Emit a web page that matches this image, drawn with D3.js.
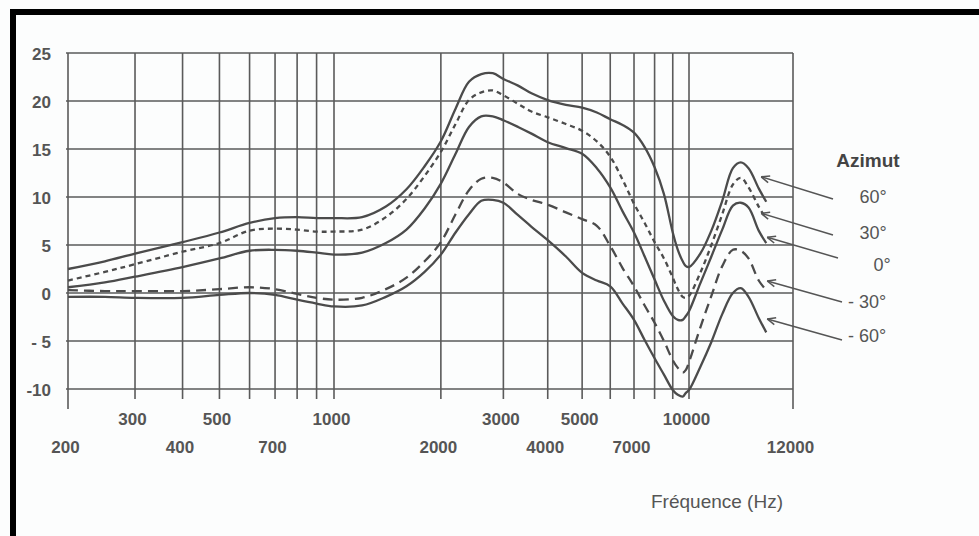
<!DOCTYPE html>
<html>
<head>
<meta charset="utf-8">
<script src="https://cdn.jsdelivr.net/npm/d3@7"></script>
<style>
html,body{margin:0;padding:0;background:#fcfdfd;}
svg{display:block;}
</style>
</head>
<body>
<svg id="chart" width="979" height="536"></svg>
<script>
// ---- data (Hz, dB) ----
const freqs = [200, 250, 300, 400, 500, 600, 700, 800, 900, 1000, 1200, 1400, 1600, 1800, 2000, 2200, 2400, 2600, 2800, 3000, 3300, 3600, 4000, 4500, 5000, 5500, 6000, 6500, 7000, 7500, 8000, 8500, 9000, 9300, 9600, 9800, 10000, 10200, 10400, 10600, 10800, 10950, 11100, 11300, 11450];
const db60 = [2.5, 3.3, 4.1, 5.3, 6.3, 7.3, 7.8, 7.9, 7.8, 7.8, 7.9, 9.0, 10.8, 13.2, 15.8, 19.2, 22.0, 22.8, 22.9, 22.3, 21.6, 20.8, 20.1, 19.6, 19.3, 18.8, 18.1, 17.5, 16.7, 15.2, 13.1, 10.3, 6.3, 4.5, 3.3, 2.8, 2.7, 4.1, 6.5, 9.6, 13.0, 13.6, 13.0, 10.9, 9.5];
const db30 = [1.3, 2.2, 3.0, 4.3, 5.2, 6.5, 6.7, 6.6, 6.4, 6.4, 6.6, 7.9, 9.8, 12.2, 14.7, 17.6, 20.1, 20.9, 21.1, 20.6, 19.7, 18.9, 18.3, 17.6, 16.9, 15.8, 14.2, 11.8, 9.3, 7.3, 5.3, 3.6, 1.6, 0.4, -0.4, -0.5, -0.3, 2.1, 5.0, 8.2, 11.3, 12.0, 11.0, 9.0, 7.7];
const db0 = [0.6, 1.1, 1.7, 2.7, 3.6, 4.4, 4.5, 4.4, 4.2, 4.0, 4.2, 5.2, 6.6, 8.8, 11.4, 14.5, 17.3, 18.4, 18.4, 18.0, 17.3, 16.6, 15.7, 15.1, 14.5, 13.0, 11.0, 8.5, 6.3, 3.8, 1.4, -0.8, -2.4, -2.8, -2.8, -2.4, -1.9, 1.0, 3.8, 6.6, 9.1, 9.4, 8.9, 6.5, 5.2];
const dbM30 = [0.3, 0.2, 0.2, 0.2, 0.4, 0.6, 0.4, -0.1, -0.5, -0.7, -0.5, 0.4, 1.6, 3.3, 5.3, 8.2, 10.7, 11.9, 12.0, 11.5, 10.3, 9.7, 9.2, 8.4, 7.7, 7.0, 4.9, 2.6, 0.7, -1.3, -3.1, -5.0, -7.0, -7.8, -8.3, -8.0, -7.2, -3.6, -0.3, 2.8, 4.5, 4.4, 3.6, 1.3, 0.3];
const dbM60 = [-0.4, -0.4, -0.5, -0.5, -0.2, 0.0, -0.2, -0.7, -1.1, -1.4, -1.3, -0.4, 0.7, 2.2, 4.0, 6.3, 8.2, 9.6, 9.7, 9.4, 8.1, 6.9, 5.5, 3.8, 2.1, 1.3, 0.7, -1.1, -2.8, -4.9, -6.8, -8.5, -10.1, -10.6, -10.8, -10.4, -10.1, -7.7, -5.1, -2.2, 0.0, 0.5, -0.4, -2.6, -4.1];

const seriesNames = ["60°", "30°", "0°", "- 30°", "- 60°"];
const seriesValues = [db60, db30, db0, dbM30, dbM60];
const seriesDash = [null, "5,4", null, "10,6", null];
// arrow tips pointing at each curve (Hz, dB)
const arrowTips = [[11350, 12.1], [11350, 8.3], [11470, 5.8], [11470, 1.25], [11470, -2.7]];

const yTicks = [25, 20, 15, 10, 5, 0, -5, -10];
const yTickLabels = ["25", "20", "15", "10", "5", "0", "- 5", "-10"];
const gridFreqs = [200, 300, 400, 500, 600, 700, 800, 900, 1000, 2000, 3000, 4000, 5000, 6000, 7000, 8000, 9000, 10000, 12000];
const xLabelsRow1 = [300, 500, 1000, 3000, 5000, 10000];
const xLabelsRow2 = [200, 400, 700, 2000, 4000, 7000, 12000];

// ---- drawing ----
const svg = d3.select("#chart");
const ink = "#4b4b4b";
const textCol = "#555";
const font = "'Liberation Sans', Arial, Helvetica, sans-serif";

svg.append("rect").attr("width", 979).attr("height", 536).attr("fill", "#fcfdfd");

const x = d3.scaleLog().domain([200, 1000, 10000, 12000]).range([68, 334, 689, 793]);
const y = d3.scaleLinear().domain([-10, 25]).range([389, 53]);

const grid = svg.append("g").attr("stroke", "#5a5a5a").attr("stroke-width", 1.6);
grid.selectAll("line.h").data(yTicks).join("line")
  .attr("class", "h")
  .attr("x1", x(200) - 2).attr("x2", x(12000))
  .attr("y1", d => y(d)).attr("y2", d => y(d));
grid.selectAll("line.v").data(gridFreqs).join("line")
  .attr("class", "v")
  .attr("x1", d => x(d)).attr("x2", d => x(d))
  .attr("y1", y(25))
  .attr("y2", d => (d === 200 || d === 12000) ? y(-10) + 20 : y(-10) + 10);

// y labels
const yAxis = d3.axisLeft(y).tickValues(yTicks).tickFormat((d, i) => yTickLabels[i]).tickSize(0).tickPadding(2);
const gy = svg.append("g").attr("transform", `translate(${x(200) - 15},0)`).call(yAxis);
gy.select(".domain").remove();
gy.selectAll("text").attr("font-family", font).attr("font-size", 17).attr("font-weight", "bold")
  .attr("fill", textCol).attr("dy", "0.4em");

// x labels, two staggered rows
function xRow(vals, yPos) {
  const ax = d3.axisBottom(x).tickValues(vals).tickFormat(d3.format("d")).tickSize(0).tickPadding(0);
  const g = svg.append("g").attr("transform", `translate(-3,${yPos})`).call(ax);
  g.select(".domain").remove();
  g.selectAll("text").attr("font-family", font).attr("font-size", 17).attr("font-weight", "bold")
    .attr("fill", textCol).attr("dy", "0.35em").attr("y", 0);
}
xRow(xLabelsRow1, 419);
xRow(xLabelsRow2, 447);

svg.append("text").attr("x", 717).attr("y", 508).attr("text-anchor", "middle")
  .attr("font-family", font).attr("font-size", 19).attr("fill", textCol)
  .text("Fréquence (Hz)");

// curves
const line = d3.line().x(d => x(d.f)).y(d => y(d.v)).curve(d3.curveCatmullRom.alpha(0.5));
seriesValues.forEach((vals, i) => {
  const pts = freqs.map((f, j) => ({ f: f, v: vals[j] }));
  svg.append("path").datum(pts)
    .attr("d", line)
    .attr("fill", "none")
    .attr("stroke", ink)
    .attr("stroke-width", 2.3)
    .attr("stroke-linecap", "butt")
    .attr("stroke-dasharray", seriesDash[i]);
});

// legend
svg.append("text").attr("x", 868).attr("y", 167).attr("text-anchor", "middle")
  .attr("font-family", font).attr("font-size", 19).attr("font-weight", "bold").attr("fill", "#444")
  .text("Azimut");
const legendPos = [[873, 197], [873, 233], [882, 265], [867, 302], [867, 336]];
const tailPos = [[833, 199], [833, 235], [838, 258], [842, 302], [842, 340]];
seriesNames.forEach((name, i) => {
  svg.append("text").attr("x", legendPos[i][0]).attr("y", legendPos[i][1]).attr("dy", "0.35em")
    .attr("text-anchor", "middle").attr("font-family", font).attr("font-size", 18)
    .attr("fill", textCol).text(name);
  const hx = x(arrowTips[i][0]), hy = y(arrowTips[i][1]);
  const tx = tailPos[i][0], ty = tailPos[i][1];
  const ang = Math.atan2(ty - hy, tx - hx);
  const g = svg.append("g").attr("stroke", "#555").attr("stroke-width", 1.5).attr("fill", "none");
  g.append("line").attr("x1", tx).attr("y1", ty).attr("x2", hx).attr("y2", hy);
  [0.4, -0.4].forEach(a => {
    g.append("line").attr("x1", hx).attr("y1", hy)
      .attr("x2", hx + 9 * Math.cos(ang + a)).attr("y2", hy + 9 * Math.sin(ang + a));
  });
});

// scan frame
svg.append("rect").attr("x", 10).attr("y", 9).attr("width", 969).attr("height", 6).attr("fill", "#000");
svg.append("rect").attr("x", 10).attr("y", 9).attr("width", 6).attr("height", 527).attr("fill", "#000");
</script>
</body>
</html>
